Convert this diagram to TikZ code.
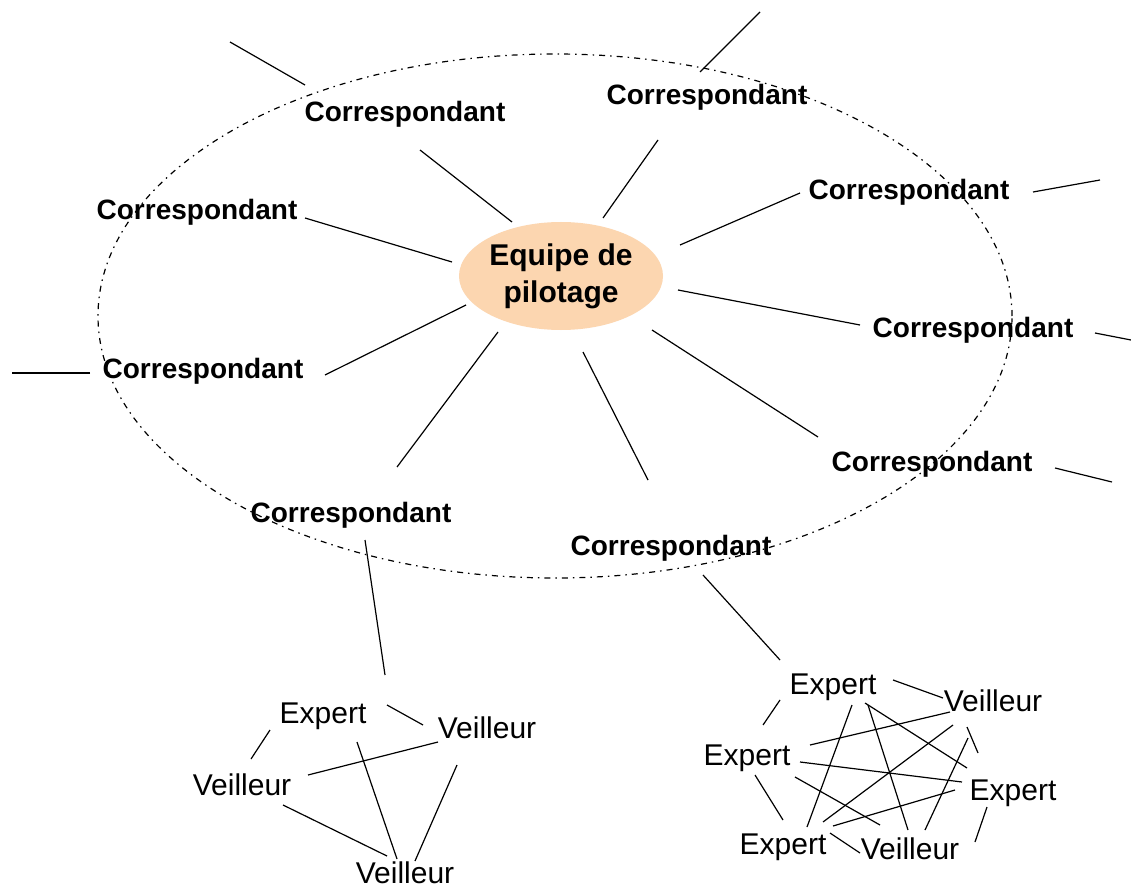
\documentclass[tikz,border=0pt]{standalone}
\usepackage{fontspec}
\setmainfont{Liberation Sans}
\usetikzlibrary{calc,shapes.geometric}
\definecolor{peach}{RGB}{252,214,176}
% a connector between two nodes, each end given as an offset from the node centre
\newcommand\conn[4]{\draw[link] ($(#1)+(#2)$) -- ($(#3)+(#4)$);}
% a connector from a node to a free end
\newcommand\tail[3]{\draw[link] ($(#1)+(#2)$) -- (#3);}
\tikzset{
  corr/.style={font=\fontsize{28}{30}\selectfont\bfseries, inner sep=0pt, text height=20pt, text depth=0pt},
  net/.style={font=\fontsize{30}{32}\selectfont, inner sep=0pt, text height=22pt, text depth=0pt},
  hub/.style={ellipse, fill=peach, inner sep=0pt, minimum width=204pt, minimum height=108pt,
              font=\fontsize{30}{37}\selectfont\bfseries, align=center},
  link/.style={line width=1.2pt, black},
  ring/.style={line width=1.2pt, black, dash pattern=on 6pt off 5pt on 1.5pt off 5pt},
}
\begin{document}
\begin{tikzpicture}[x=1pt,y=-1pt]
\useasboundingbox (0,0) rectangle (1131,890);
\fill[white] (0,0) rectangle (1131,890);

% the circle of correspondants
\draw[ring] (555,316) ellipse [x radius=457pt, y radius=262pt];

% steering team
\node[hub] (eq) at (561,276) {Equipe de\\pilotage};

% correspondants
\node[corr] (c1) at (405,112) {Correspondant};
\node[corr] (c2) at (707,95)  {Correspondant};
\node[corr] (c3) at (197,210) {Correspondant};
\node[corr] (c4) at (909,190) {Correspondant};
\node[corr] (c5) at (973,327) {Correspondant};
\node[corr] (c6) at (203,368) {Correspondant};
\node[corr] (c7) at (932,461) {Correspondant};
\node[corr] (c8) at (351,512) {Correspondant};
\node[corr] (c9) at (671,545) {Correspondant};

% left network
\node[net] (bE)  at (323,712) {Expert};
\node[net] (bVR) at (487,727) {Veilleur};
\node[net] (bVL) at (242,784) {Veilleur};
\node[net] (bVB) at (405,872) {Veilleur};

% right network
\node[net] (rET) at (833,683)  {Expert};
\node[net] (rVT) at (993,700)  {Veilleur};
\node[net] (rEL) at (747,754)  {Expert};
\node[net] (rER) at (1013,789) {Expert};
\node[net] (rEB) at (783,843)  {Expert};
\node[net] (rVB) at (910,848)  {Veilleur};

% free ends of the outgoing links
\coordinate (x1) at (230,42);
\coordinate (x2) at (760,12);
\coordinate (x4) at (1100,180);
\coordinate (x5) at (1131,340);
\coordinate (x6) at (12,373);
\coordinate (x7) at (1112,482);
\coordinate (x8) at (385,675);

% steering team to correspondants
\conn{eq}{-49,-54}{c1}{15,38}
\conn{eq}{42,-58}{c2}{-49,45}
\conn{eq}{-109,-14}{c3}{108,8}
\conn{eq}{119,-31}{c4}{-109,3}
\conn{eq}{117,14}{c5}{-113,-2}
\conn{eq}{-95,29}{c6}{122,7}
\conn{eq}{91,54}{c7}{-114,-24}
\conn{eq}{-63,56}{c8}{46,-45}
\conn{eq}{22,76}{c9}{-23,-65}

% outgoing links
\tail{c1}{-100,-27}{x1}
\tail{c2}{-7,-23}{x2}
\tail{c4}{124,2}{x4}
\tail{c5}{122,6}{x5}
\tail{c6}{-113,5}{x6}
\tail{c7}{123,7}{x7}
\tail{c8}{14,28}{x8}
\conn{c9}{32,30}{rET}{-53,-23}

% left network links
\conn{bE}{-53,18}{bVL}{9,-25}
\conn{bE}{64,-7}{bVR}{-64,-2}
\conn{bE}{34,30}{bVB}{-8,-13}
\conn{bVL}{66,-9}{bVR}{-49,15}
\conn{bVL}{41,21}{bVB}{-18,-16}
\conn{bVR}{-30,38}{bVB}{10,-11}

% right network links
\conn{rET}{60,-3}{rVT}{-50,-2}
\conn{rET}{-53,17}{rEL}{16,-29}
\conn{rET}{19,22}{rEB}{24,-16}
\conn{rET}{32,20}{rER}{-46,-21}
\conn{rET}{35,22}{rVB}{-2,-18}
\conn{rVT}{-43,12}{rEL}{63,-9}
\conn{rVT}{-40,25}{rEB}{40,-21}
\conn{rVT}{-26,27}{rER}{-35,-36}
\conn{rVT}{-25,38}{rVB}{15,-18}
\conn{rEL}{53,8}{rER}{-51,-7}
\conn{rEL}{48,23}{rVB}{-30,-23}
\conn{rEL}{8,21}{rEB}{0,-23}
\conn{rEB}{50,-17}{rER}{-58,1}
\conn{rEB}{47,-10}{rVB}{-50,5}
\conn{rER}{-26,18}{rVB}{65,-6}
\end{tikzpicture}
\end{document}
